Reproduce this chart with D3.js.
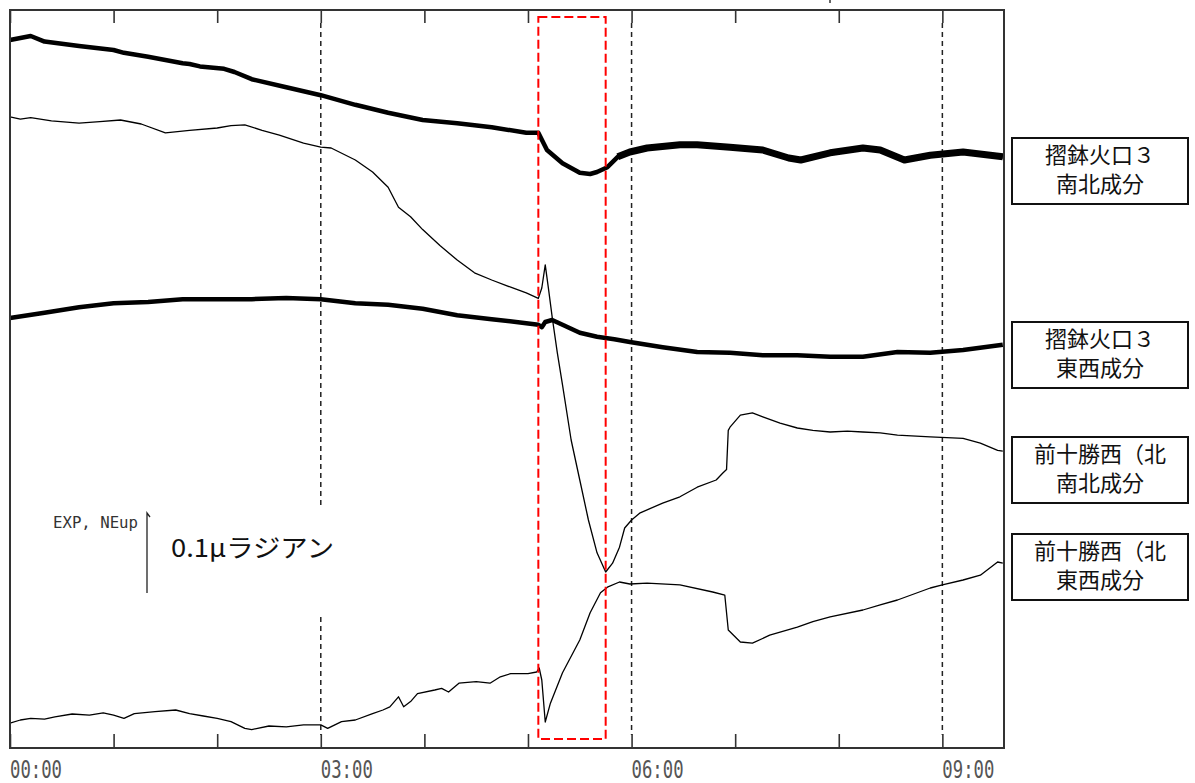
<!DOCTYPE html>
<html>
<head>
<meta charset="utf-8">
<script src="https://cdn.jsdelivr.net/npm/d3@7"></script>
<style>
  html, body { margin: 0; padding: 0; background: #fff; }
  svg { display: block; }
</style>
</head>
<body>
<svg id="chart" width="1195" height="783"></svg>
<script>
/* ============================================================
   傾斜計記録 – 4成分 strip chart (00:00 – 09:35)
   ============================================================ */

// time in minutes from 00:00, values in nrad (0.1 μrad = 100)
const tSuribachiNS = [0,12,20,40,60,66,80,100,104,110,124,130,140,160,180,200,219,239,259,279,299,306,311,320,330,336,340,346,352,359,369,388,398,417,436,451,458,475,494,504,518,533,552,575];
const vSuribachiNS = [885,890,883,877.5,872.5,869,864,856,855,852,849,845,836,826,816,804,794,785,781,776,769,769,747.5,731,719,717.5,720,726,739,745,750,754,754,751,747.5,737.5,735,744,750,747.5,735,741,745,739];

const tSuribachiEW = [0,20,40,60,80,100,120,140,160,180,200,219,239,259,279,299,306,308,310,314,320,325,330,340,350,359,378,398,417,436,456,475,494,514,533,552,575];
const vSuribachiEW = [537.5,544,551,556,557.5,561,561,561,562.5,561,556,554,549,541,536,531,529,526,532.5,535,529,524,519,514,511,507.5,501,495,494,491,491,489,489,495,494,497.5,504];

const tMaetokachiNS = [0,6,12,24,40,52,64,76,90,104,120,128,136,146,156,170,180,186,200,210,219,225,232,239,249,259,269,279,290,299,306,308,310,312,314,317,320,325,330,335,340,345,349,353,356,360,365,378,388,398,409,413,415,416,417,423,430,436,446,456,465,475,485,494,504,514,533,552,562,572,575];
const vMaetokachiNS = [789,786,788,784,781,783,785,780,769,772,775,778,779,772,766,756,751,750,735,720,701,676,664,648,628,610,594,585,576,569,562,575,604,572,539,494,454,385,335,285,244,220,231,251,275,285,294,306,314,326,335,344,348,397,401,416,419,414,406,400,397,395,396,395,394,391,389,387,381,372,371];

const tMaetokachiEW = [0,6,12,20,26,36,46,54,60,66,72,84,96,104,112,120,128,136,140,150,160,170,180,184,192,200,210,216,220,225,228,232,236,246,250,254,260,270,278,284,290,300,305,306.5,308,310,313,320,330,336,342,346,353,359,369,388,407,414,416,423,430,440,456,465,475,494,504,514,533,540,552,562,572,575];
const vMaetokachiEW = [31,35,37,36,39,42.5,41,44,41,37,43,45.5,47.5,43,40,37,33,24.5,23,27.5,26.5,29,29,24.5,33,35,43,47.5,51.5,64,51.5,58,68,72.5,74.5,70,81,83,81,89,93,93,95,100,85,32.5,56,94,135,169,194,201,207.5,205,206,204,195,191,147.5,132.5,131,141,151,158,164,172.5,179,185,200,204,210,216,232.5,231];

const hourTicks  = [0,1,2,3,4,5,6,7,8,9];
const gridHours  = [3,6,9];
const timeLabels = ['00:00','03:00','06:00','09:00'];
const labelHours = [0,3,6,9];

const stationLabels = [
  ['摺鉢火口３', '南北成分'],
  ['摺鉢火口３', '東西成分'],
  ['前十勝西（北', '南北成分'],
  ['前十勝西（北', '東西成分']
];

const eventWindow = [306, 345];   // 赤枠 (min)
const scaleRange  = 100;          // 0.1 μrad

const svg = d3.select('#chart');
const L = 10, R = 1004, T = 10, B = 748;

const x = d3.scaleLinear().domain([0, 575.7]).range([L, R]);
const y = d3.scaleLinear().domain([0, 922.5]).range([B, T]);

const zip = (ts, vs) => ts.map((t, i) => ({ t, v: vs[i] }));
const line = d3.line().x(d => x(d.t)).y(d => y(d.v));

// dashed hour grid
svg.append('g').selectAll('line')
  .data(gridHours).enter().append('line')
  .attr('x1', d => x(d * 60)).attr('x2', d => x(d * 60))
  .attr('y1', T + 13).attr('y2', B - 13)
  .attr('stroke', '#222').attr('stroke-width', 1.5)
  .attr('stroke-dasharray', '5,4');

// ticks top / bottom
const topAxis = d3.axisTop(x).tickValues(hourTicks.map(h => h * 60)).tickSize(-13).tickFormat('');
const botAxis = d3.axisBottom(x).tickValues(hourTicks.map(h => h * 60)).tickSize(-14).tickFormat('');
[svg.append('g').attr('transform', `translate(0,${T})`).call(topAxis),
 svg.append('g').attr('transform', `translate(0,${B})`).call(botAxis)].forEach(g => {
  g.select('.domain').remove();
  g.selectAll('.tick line').attr('stroke', '#333').attr('stroke-width', 1.6);
});

// scale annotation (white backing interrupts the 03:00 grid line)
const sx = 147;
svg.append('rect').attr('x', 40).attr('y', 508).attr('width', 320).attr('height', 105).attr('fill', '#fff');
const sy0 = 593, sy1 = sy0 - (y(0) - y(scaleRange));
svg.append('path')
  .attr('d', `M${sx},${sy0}V${sy1}l3,4`)
  .attr('fill', 'none').attr('stroke', '#222').attr('stroke-width', 1.3);
svg.append('text')
  .attr('x', 138).attr('y', 528).attr('text-anchor', 'end')
  .attr('font-family', 'DejaVu Sans Mono, monospace')
  .attr('font-size', 15).attr('fill', '#333')
  .attr('textLength', 85).attr('lengthAdjust', 'spacingAndGlyphs')
  .text('EXP, NEup');
svg.append('text')
  .attr('x', 171).attr('y', 557)
  .attr('font-family', 'Noto Sans CJK JP, sans-serif')
  .attr('font-size', 25).attr('fill', '#111')
  .attr('textLength', 163).attr('lengthAdjust', 'spacingAndGlyphs')
  .text('0.1μラジアン');

// traces
const traces = [
  { data: zip(tSuribachiNS, vSuribachiNS), w: 4.5 },
  { data: zip(tSuribachiEW, vSuribachiEW), w: 4.5 },
  { data: zip(tMaetokachiNS, vMaetokachiNS), w: 1.3 },
  { data: zip(tMaetokachiEW, vMaetokachiEW), w: 1.3 }
];
const gTr = svg.append('g');
traces.forEach(s => {
  gTr.append('path').datum(s.data)
    .attr('d', line)
    .attr('fill', 'none').attr('stroke', '#000')
    .attr('stroke-width', s.w).attr('stroke-linejoin', 'round');
});
// noisier band of 南北 after the event
gTr.append('path').datum(traces[0].data.filter(d => d.t >= 352))
  .attr('d', line)
  .attr('fill', 'none').attr('stroke', '#000')
  .attr('stroke-width', 7).attr('stroke-linejoin', 'round');

// frame
svg.append('rect')
  .attr('x', L).attr('y', T).attr('width', R - L).attr('height', B - T)
  .attr('fill', 'none').attr('stroke', '#333').attr('stroke-width', 2);

// event box
svg.append('rect')
  .attr('x', x(eventWindow[0])).attr('y', 17)
  .attr('width', x(eventWindow[1]) - x(eventWindow[0])).attr('height', 739 - 17)
  .attr('fill', 'none').attr('stroke', '#f00').attr('stroke-width', 2)
  .attr('stroke-dasharray', '9,4');

// time labels
svg.append('g').selectAll('text')
  .data(labelHours).enter().append('text')
  .attr('x', d => x(d * 60)).attr('y', 778)
  .attr('font-family', 'DejaVu Sans Mono, monospace')
  .attr('font-size', 25).attr('fill', '#555')
  .attr('textLength', 52).attr('lengthAdjust', 'spacingAndGlyphs')
  .text((d, i) => timeLabels[i]);

// small mark at the top edge
svg.append('line').attr('x1', 830).attr('x2', 830).attr('y1', 0).attr('y2', 3)
  .attr('stroke', '#333').attr('stroke-width', 1.5);

// station labels
const boxTops = [138, 322, 437, 534];
const gLab = svg.append('g');
stationLabels.forEach((lines, i) => {
  const by = boxTops[i];
  gLab.append('rect')
    .attr('x', 1012).attr('y', by).attr('width', 176).attr('height', 66)
    .attr('fill', '#fff').attr('stroke', '#111').attr('stroke-width', 2);
  lines.forEach((s, j) => {
    gLab.append('text')
      .attr('x', 1100).attr('y', by + 25 + j * 29)
      .attr('text-anchor', 'middle')
      .attr('font-family', 'Noto Sans CJK JP, sans-serif')
      .attr('font-size', 22).attr('fill', '#111')
      .text(s);
  });
});
</script>
</body>
</html>
